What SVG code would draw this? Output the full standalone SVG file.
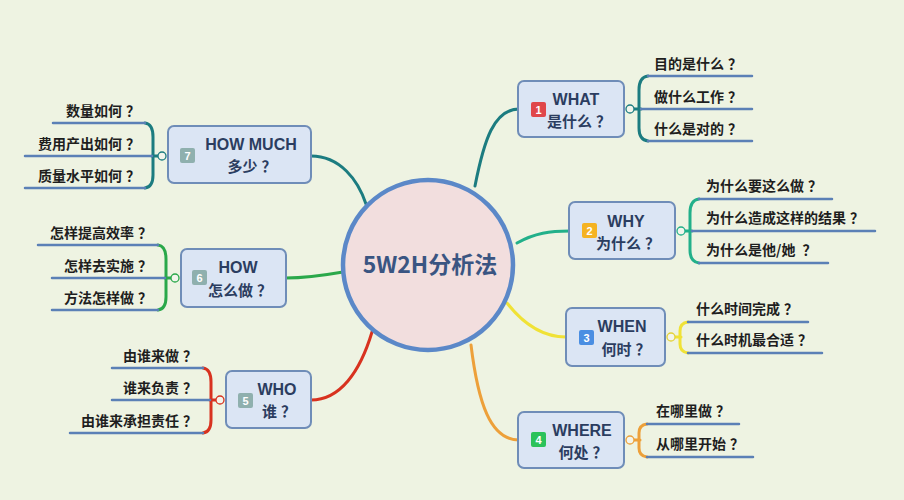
<svg xmlns="http://www.w3.org/2000/svg" width="904" height="500" viewBox="0 0 904 500">
<style>
.bg{fill:#eef3e2}
.box{fill:#dbe5f4;stroke:#6f8db8;stroke-width:2}
.en{font-family:"Liberation Sans","Noto Sans CJK SC",sans-serif;font-weight:bold;font-size:16px;fill:#2b3d60;text-anchor:middle}
.zh{font-family:"Noto Sans CJK SC","Liberation Sans",sans-serif;font-weight:bold;font-size:15px;fill:#2b3d60;text-anchor:middle}
.ch{font-family:"Noto Sans CJK SC","Liberation Sans",sans-serif;font-weight:bold;font-size:14px;fill:#1e1e1e}
.r{text-anchor:end}
.badge{stroke:none}
.num{font-family:"Liberation Sans",sans-serif;font-weight:bold;font-size:11px;fill:#ffffff;text-anchor:middle}
.ul{stroke:#5b80b6;stroke-width:2.5;fill:none;stroke-linecap:round}
.conn{fill:none;stroke-width:3;stroke-linecap:round}
.jn{fill:#f3f5ec;stroke-width:1.3}
</style>
<rect class="bg" x="0" y="0" width="904" height="500"/>

<g id="connectors">
<path class="conn" stroke="#1c7c80" d="M475,186 C484,140 494,109 519,109"/>
<path class="conn" stroke="#22b08a" d="M517,243 C535,233 550,231 570,231"/>
<path class="conn" stroke="#f0e236" d="M507,303 C525,326 545,337 566,337"/>
<path class="conn" stroke="#eda03a" d="M471,345 C478,402 490,440 519,440"/>
<path class="conn" stroke="#d8321f" d="M372,332 C360,372 340,400 311,400"/>
<path class="conn" stroke="#2aa84a" d="M343,272 C320,276 302,278 286,278"/>
<path class="conn" stroke="#1c7c80" d="M311,156 C340,156 358,180 366,204"/>
</g>

<g id="center">
<circle cx="428" cy="265" r="85" fill="#f2dede" stroke="#5b88c8" stroke-width="4.5"/>
<text x="430" y="273" font-family="Noto Sans CJK SC, Liberation Sans, sans-serif" font-weight="bold" font-size="23" fill="#3a5582" text-anchor="middle">5W2H分析法</text>
</g>

<g id="what">
<rect class="box" x="518" y="81" width="106" height="56" rx="6"/>
<rect class="badge" x="531" y="102" width="15" height="15" rx="2" fill="#e0474a"/>
<text class="num" x="538.5" y="114">1</text>
<text class="en" x="576" y="105">WHAT</text>
<text class="zh" x="579" y="127">是什么<tspan dx="4">？</tspan></text>
<path class="conn" stroke="#1c7c80" stroke-width="2.5" d="M634,109 L641,109 M648,76 Q639,77 639,90 L639,128 Q639,140 648,141"/>
<circle class="jn" cx="630" cy="109" r="4" stroke="#1c7c80"/>
<path class="ul" d="M648,76 H752 M641,109 H752 M648,141 H752"/>
<text class="ch" x="654" y="69">目的是什么<tspan dx="4">？</tspan></text>
<text class="ch" x="654" y="102">做什么工作<tspan dx="4">？</tspan></text>
<text class="ch" x="654" y="134">什么是对的<tspan dx="4">？</tspan></text>
</g>

<g id="why">
<rect class="box" x="569" y="202" width="106" height="57" rx="6"/>
<rect class="badge" x="582" y="223" width="15" height="15" rx="2" fill="#f5b322"/>
<text class="num" x="589.5" y="235">2</text>
<text class="en" x="626" y="227">WHY</text>
<text class="zh" x="628" y="249">为什么<tspan dx="4">？</tspan></text>
<path class="conn" stroke="#22b08a" stroke-width="2.5" d="M685,231 L692,231 M699,199 Q690,200 690,213 L690,250 Q690,262 699,263"/>
<circle class="jn" cx="681" cy="231" r="4" stroke="#22b08a"/>
<path class="ul" d="M699,199 H832 M692,231 H875 M699,263 H828"/>
<text class="ch" x="706" y="191">为什么要这么做<tspan dx="4">？</tspan></text>
<text class="ch" x="706" y="223">为什么造成这样的结果<tspan dx="4">？</tspan></text>
<text class="ch" x="706" y="255">为什么是他/她 <tspan dx="4">？</tspan></text>
</g>

<g id="when">
<rect class="box" x="566" y="308" width="99" height="58" rx="6"/>
<rect class="badge" x="579" y="330" width="15" height="15" rx="2" fill="#4a8ee2"/>
<text class="num" x="586.5" y="342">3</text>
<text class="en" x="622" y="332">WHEN</text>
<text class="zh" x="626" y="355">何时<tspan dx="4">？</tspan></text>
<path class="conn" stroke="#f0e236" stroke-width="2.5" d="M675,337 L681,337 M688,322 Q680,323 680,331 L680,344 Q680,352 688,353"/>
<circle class="jn" cx="671" cy="337" r="4" stroke="#e3d23a"/>
<path class="ul" d="M688,322 H808 M688,353 H822"/>
<text class="ch" x="696" y="314">什么时间完成<tspan dx="4">？</tspan></text>
<text class="ch" x="696" y="345">什么时机最合适<tspan dx="4">？</tspan></text>
</g>

<g id="where">
<rect class="box" x="518" y="412" width="106" height="56" rx="6"/>
<rect class="badge" x="531" y="432" width="15" height="15" rx="2" fill="#2bc25a"/>
<text class="num" x="538.5" y="444">4</text>
<text class="en" x="582" y="436">WHERE</text>
<text class="zh" x="583" y="458">何处<tspan dx="4">？</tspan></text>
<path class="conn" stroke="#eda03a" stroke-width="2.5" d="M634,440 L640,440 M647,424 Q639,425 639,433 L639,448 Q639,456 647,457"/>
<circle class="jn" cx="630" cy="440" r="4" stroke="#eda03a"/>
<path class="ul" d="M647,424 H739 M647,457 H753"/>
<text class="ch" x="656" y="416">在哪里做<tspan dx="4">？</tspan></text>
<text class="ch" x="656" y="449">从哪里开始<tspan dx="4">？</tspan></text>
</g>

<g id="howmuch">
<rect class="box" x="168" y="126" width="143" height="57" rx="6"/>
<rect class="badge" x="180" y="148" width="15" height="15" rx="2" fill="#8fb0ae"/>
<text class="num" x="187.5" y="160">7</text>
<text class="en" x="251" y="150">HOW MUCH</text>
<text class="zh" x="252" y="172">多少<tspan dx="4">？</tspan></text>
<path class="conn" stroke="#1c7c80" stroke-width="2.5" d="M158,156 L152,156 M145,123 Q153,124 153,137 L153,175 Q153,187 145,188"/>
<circle class="jn" cx="162" cy="156" r="4" stroke="#1c7c80"/>
<path class="ul" d="M53,123 H145 M25,156 H152 M25,188 H145"/>
<text class="ch r" x="140" y="116">数量如何<tspan dx="4">？</tspan></text>
<text class="ch r" x="140" y="149">费用产出如何<tspan dx="4">？</tspan></text>
<text class="ch r" x="140" y="181">质量水平如何<tspan dx="4">？</tspan></text>
</g>

<g id="how">
<rect class="box" x="181" y="249" width="105" height="58" rx="6"/>
<rect class="badge" x="192" y="270" width="15" height="15" rx="2" fill="#8fb0ae"/>
<text class="num" x="199.5" y="282">6</text>
<text class="en" x="238" y="273">HOW</text>
<text class="zh" x="240" y="296">怎么做<tspan dx="4">？</tspan></text>
<path class="conn" stroke="#2aa84a" stroke-width="2.5" d="M171,278 L165,278 M158,245 Q166,246 166,259 L166,297 Q166,309 158,310"/>
<circle class="jn" cx="175" cy="278" r="4" stroke="#2aa84a"/>
<path class="ul" d="M38,245 H158 M52,278 H165 M52,310 H158"/>
<text class="ch r" x="152" y="238">怎样提高效率<tspan dx="4">？</tspan></text>
<text class="ch r" x="152" y="271">怎样去实施<tspan dx="4">？</tspan></text>
<text class="ch r" x="152" y="303">方法怎样做<tspan dx="4">？</tspan></text>
</g>

<g id="who">
<rect class="box" x="226" y="371" width="85" height="57" rx="6"/>
<rect class="badge" x="238" y="393" width="15" height="15" rx="2" fill="#8fb0ae"/>
<text class="num" x="245.5" y="405">5</text>
<text class="en" x="277" y="395">WHO</text>
<text class="zh" x="279" y="417">谁<tspan dx="4">？</tspan></text>
<path class="conn" stroke="#d8321f" stroke-width="2.5" d="M216,400 L210,400 M203,368 Q211,369 211,382 L211,420 Q211,432 203,433"/>
<circle class="jn" cx="220" cy="400" r="4" stroke="#d8321f"/>
<path class="ul" d="M112,368 H203 M112,400 H210 M70,433 H203"/>
<text class="ch r" x="197" y="361">由谁来做<tspan dx="4">？</tspan></text>
<text class="ch r" x="197" y="393">谁来负责<tspan dx="4">？</tspan></text>
<text class="ch r" x="197" y="426">由谁来承担责任<tspan dx="4">？</tspan></text>
</g>
</svg>
